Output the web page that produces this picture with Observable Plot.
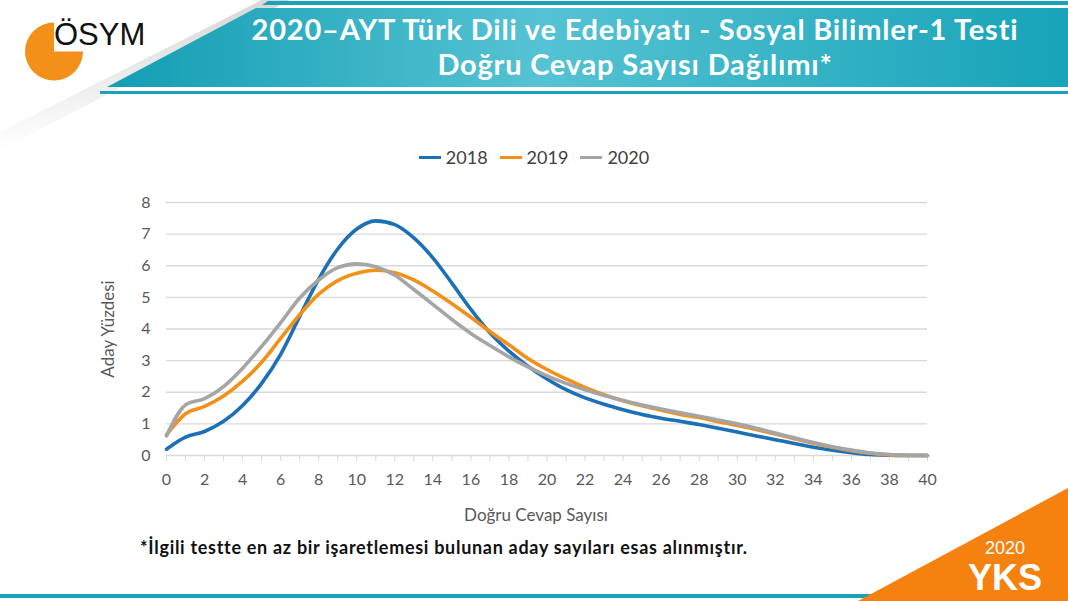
<!DOCTYPE html>
<html>
<head>
<meta charset="utf-8">
<script src="https://cdn.jsdelivr.net/npm/d3@7"></script>
<script src="https://cdn.jsdelivr.net/npm/@observablehq/plot@0.6"></script>
<style>
  html, body { margin: 0; padding: 0; background: #fff; }
  #page { position: relative; width: 1068px; height: 601px; overflow: hidden; font-family: Lato, "Open Sans", sans-serif; }
  #deco { position: absolute; left: 0; top: 0; }
  #chart { position: absolute; left: 0; top: 0; }
  .title { position: absolute; left: 130px; width: 1010px; text-align: center; color: #fff; font-weight: 700; font-size: 29px; letter-spacing: 0.8px; white-space: nowrap; }
  #legend { position: absolute; top: 146px; left: 0; width: 1068px; display: flex; justify-content: center; gap: 12px; font-size: 18px; color: #404040; padding-left: 0px; box-sizing: border-box; }
  #legend .item { display: flex; align-items: center; gap: 5px; }
  #legend .sw { width: 22px; height: 0; border-top: 3.5px solid; display: inline-block; }
  #note { position: absolute; left: 140px; top: 536px; font-size: 18px; letter-spacing: 0.7px; font-weight: 700; color: #111; white-space: nowrap; }
  #osym { position: absolute; left: 54px; top: 17px; font-family: "Liberation Sans", Arial, sans-serif; font-size: 31px; color: #111; }
  #yks1 { position: absolute; left: 960px; top: 539px; width: 90px; text-align: center; color: #fff; font-family: "Liberation Sans", Arial, sans-serif; font-size: 18px; line-height: 18px; }
  #yks2 { position: absolute; left: 955px; top: 560px; width: 100px; text-align: center; color: #fff; font-family: "Liberation Sans", Arial, sans-serif; font-weight: 700; font-size: 36px; line-height: 36px; }
</style>
</head>
<body>
<div id="page">
  <svg id="deco" width="1068" height="601">
    <defs>
      <linearGradient id="teal" x1="0" x2="1" y1="0" y2="0">
        <stop offset="0" stop-color="#139db3"/>
        <stop offset="0.45" stop-color="#55c3d3"/>
        <stop offset="1" stop-color="#17a3b8"/>
      </linearGradient>
      <linearGradient id="shadow" x1="0" x2="0" y1="0" y2="1">
        <stop offset="0" stop-color="#d0d0d0"/>
        <stop offset="1" stop-color="#ffffff"/>
      </linearGradient>
    </defs>
    <polygon points="0,132 262,0 290,0 0,150" fill="url(#shadow)" opacity="0.85"/>
    <polygon points="268,1 1068,1 1068,5 262,5" fill="#1aa3b8"/>
    <polygon points="256,8 1068,8 1068,87 107,87" fill="url(#teal)"/>
    <rect x="100" y="91" width="968" height="3" fill="#1aa3b8"/>
    <path d="M54,51.5 L54,22.5 A29,29 0 1 0 83,51.5 Z" fill="#f39019"/>
    <rect x="0" y="594" width="880" height="4" fill="#1aa3b8"/>
    <polygon points="858,601 1068,488 1068,601" fill="#f5820f"/>
  </svg>
  <div id="osym">ÖSYM</div>
  <div class="title" style="top:11px">2020–AYT Türk Dili ve Edebiyatı - Sosyal Bilimler-1 Testi</div>
  <div class="title" style="top:46px">Doğru Cevap Sayısı Dağılımı*</div>
  <div id="legend"></div>
  <div id="chart"></div>
  <div id="note">*İlgili testte en az bir işaretlemesi bulunan aday sayıları esas alınmıştır.</div>
  <div id="yks1">2020</div>
  <div id="yks2">YKS</div>
</div>
<script>
const years = ["2018", "2019", "2020"];
const colors = ["#1b70b8", "#f39019", "#a5a5a5"];
const correct = d3.range(0, 41);
const pct2018 = [0.2, 0.58, 0.76, 1.08, 1.58, 2.28, 3.2, 4.4, 5.58, 6.53, 7.16, 7.42, 7.3, 6.88, 6.25, 5.45, 4.62, 3.88, 3.3, 2.82, 2.42, 2.08, 1.82, 1.62, 1.45, 1.3, 1.18, 1.08, 0.98, 0.86, 0.74, 0.62, 0.5, 0.38, 0.26, 0.17, 0.09, 0.03, 0.01, 0.0, 0.0];
const pct2019 = [0.65, 1.32, 1.55, 1.88, 2.35, 2.95, 3.7, 4.45, 5.1, 5.53, 5.76, 5.86, 5.78, 5.55, 5.2, 4.8, 4.37, 3.92, 3.5, 3.07, 2.72, 2.42, 2.15, 1.92, 1.73, 1.57, 1.43, 1.3, 1.2, 1.07, 0.95, 0.82, 0.68, 0.53, 0.39, 0.26, 0.15, 0.07, 0.02, 0.0, 0.0];
const pct2020 = [0.62, 1.6, 1.8, 2.18, 2.76, 3.45, 4.2, 4.98, 5.55, 5.94, 6.06, 5.97, 5.7, 5.25, 4.78, 4.3, 3.86, 3.48, 3.12, 2.8, 2.52, 2.28, 2.08, 1.9, 1.74, 1.6, 1.47, 1.35, 1.24, 1.12, 1.0, 0.86, 0.71, 0.56, 0.41, 0.28, 0.17, 0.08, 0.03, 0.01, 0.0];
const xTickLabels = d3.range(0, 41, 2);
const yTickLabels = d3.range(0, 9);
const xTitle = "Doğru Cevap Sayısı";
const yTitle = "Aday Yüzdesi";

const series = [pct2018, pct2019, pct2020];
const data = years.flatMap((yr, i) => correct.map((c, j) => ({year: yr, x: c, y: series[i][j]})));

const plot = Plot.plot({
  width: 1068,
  height: 601,
  marginLeft: 166,
  marginRight: 141,
  marginTop: 202,
  marginBottom: 146,
  style: {fontFamily: "Lato, 'Open Sans', sans-serif", fontSize: "16px", color: "#595959", background: "transparent", overflow: "visible"},
  x: {domain: [0, 40]},
  y: {domain: [0, 8]},
  color: {domain: years, range: colors},
  marks: [
    Plot.gridY(yTickLabels.filter(d => d > 0), {stroke: "#d9d9d9", strokeOpacity: 1, strokeWidth: 1.4}),
    Plot.ruleY([0], {stroke: "#d9d9d9", strokeWidth: 1.4}),
    Plot.axisX({ticks: correct, tickSize: 6, tickFormat: () => "", label: null, stroke: "#d9d9d9", strokeOpacity: 1}),
    Plot.axisX({ticks: xTickLabels, tickSize: 0, tickPadding: 18, fill: "#595959", label: null}),
    Plot.axisY({ticks: yTickLabels, tickSize: 0, tickPadding: 16, fill: "#595959", label: null}),
    Plot.text([xTitle], {frameAnchor: "bottom", dy: 65, dx: -11, fill: "#595959", fontSize: 17}),
    Plot.text([yTitle], {frameAnchor: "left", textAnchor: "middle", dx: -58, rotate: -90, fill: "#595959", fontSize: 17}),
    Plot.line(data, {x: "x", y: "y", z: "year", stroke: "year", curve: "monotone-x", strokeWidth: 3.6, strokeLinejoin: "round", strokeLinecap: "round"})
  ]
});
document.getElementById("chart").appendChild(plot);

const legend = document.getElementById("legend");
years.forEach((yr, i) => {
  const item = document.createElement("div");
  item.className = "item";
  const sw = document.createElement("span");
  sw.className = "sw";
  sw.style.borderColor = colors[i];
  const t = document.createElement("span");
  t.textContent = yr;
  item.appendChild(sw);
  item.appendChild(t);
  legend.appendChild(item);
});
</script>
</body>
</html>
